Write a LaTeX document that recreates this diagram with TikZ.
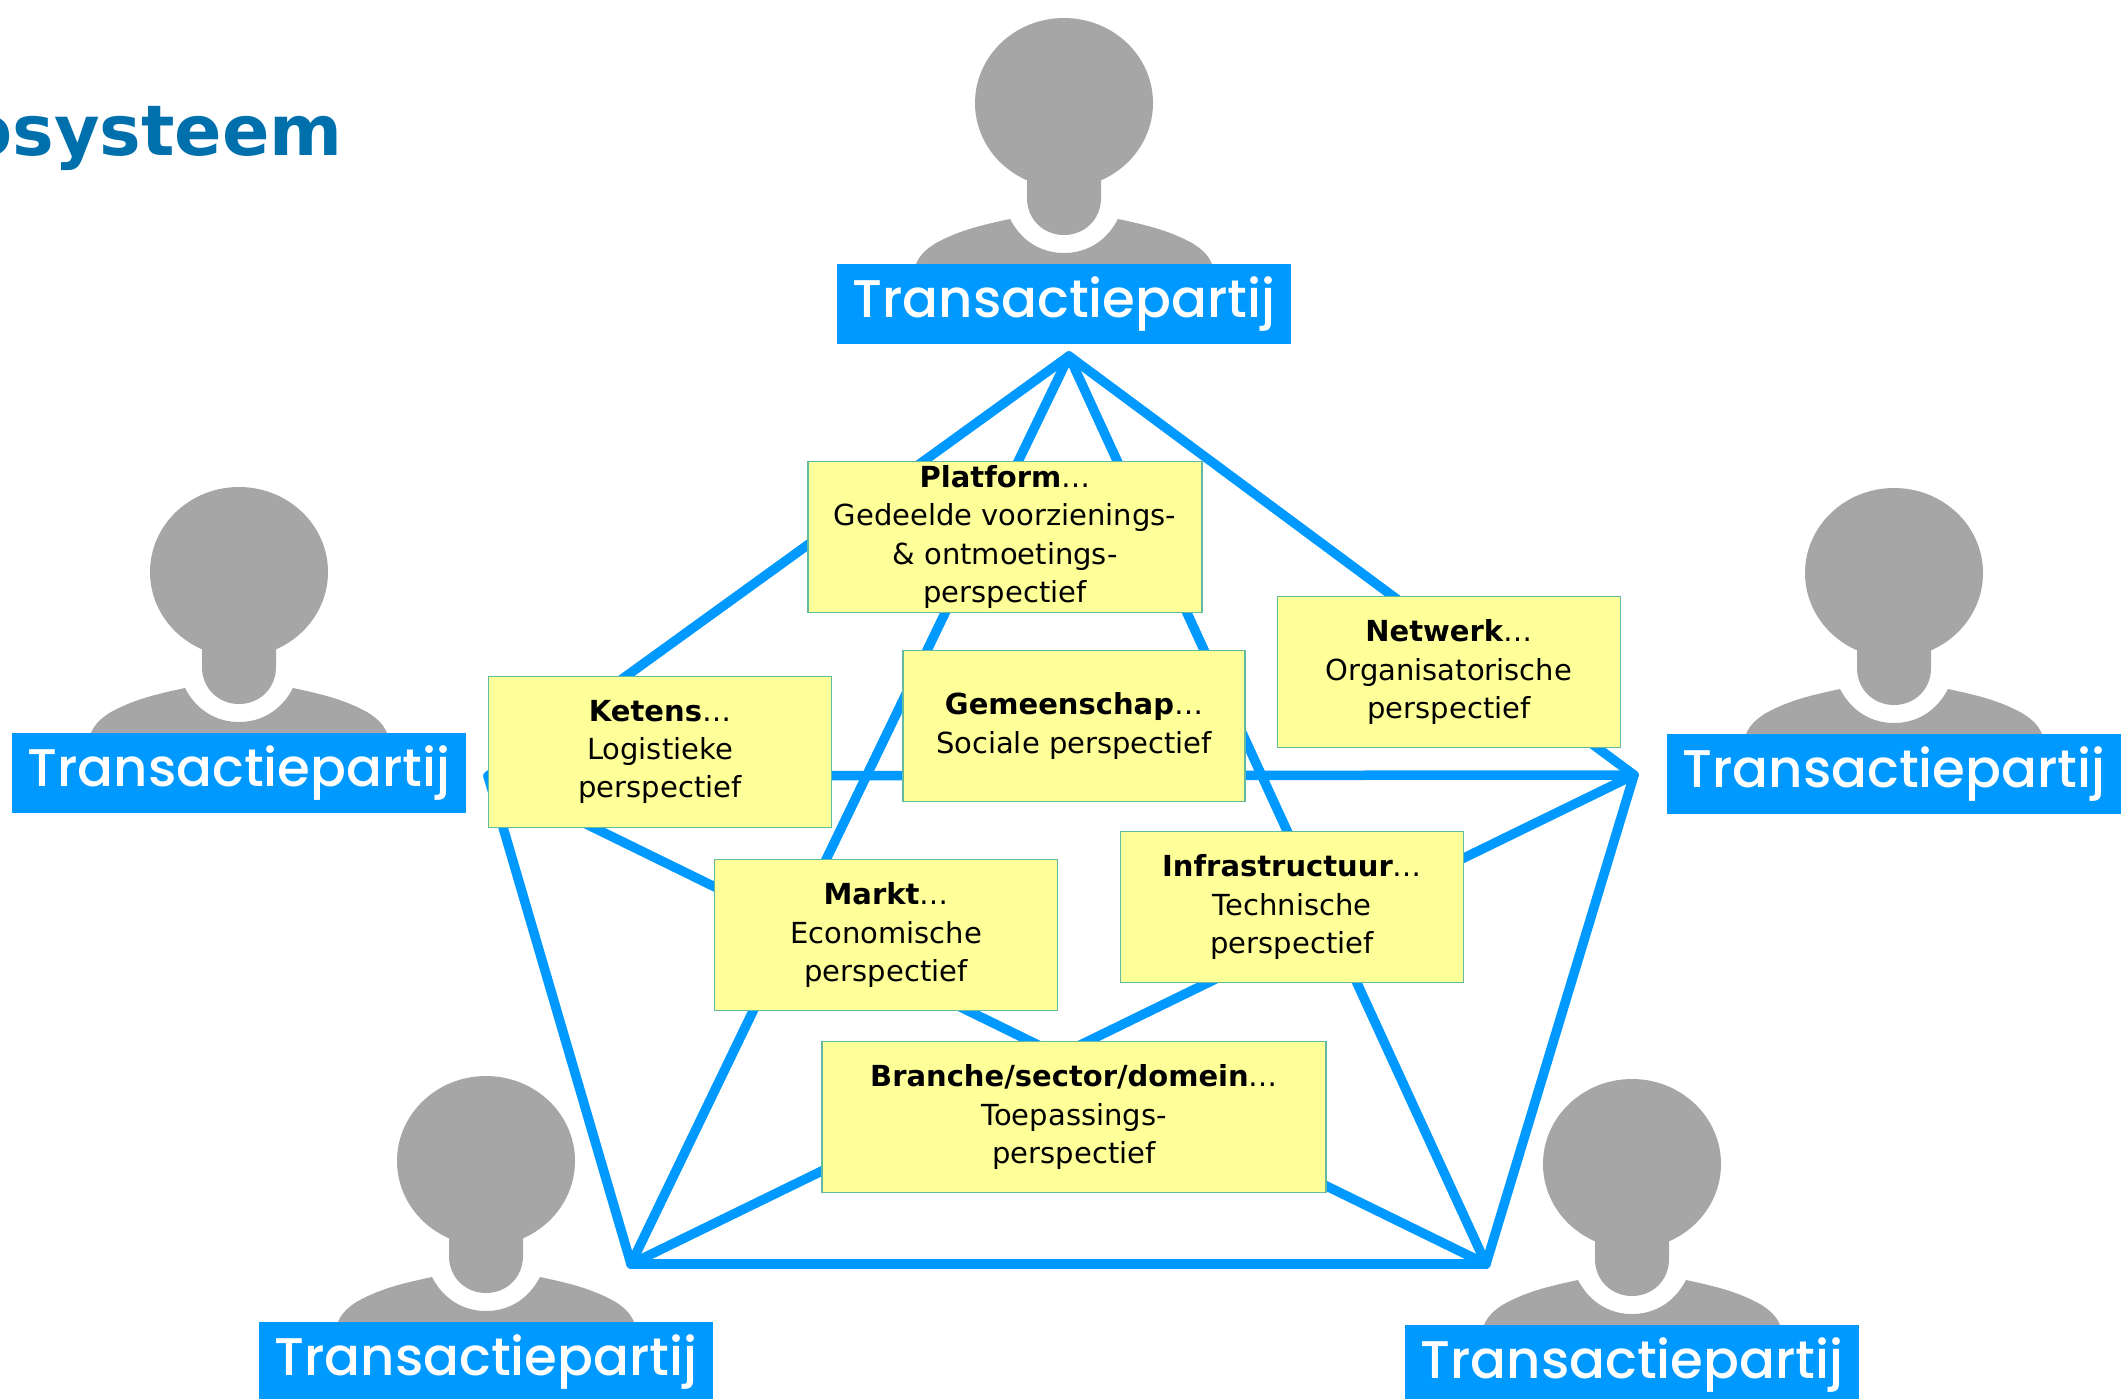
\documentclass[tikz,border=0pt]{standalone}
\usepackage{fontspec}
\setmainfont{DejaVu Sans}
\newfontfamily\partijfont{Poppins Medium}
\definecolor{lijnblauw}{HTML}{0099FF}
\definecolor{titelblauw}{HTML}{0070AD}
\definecolor{persoongrijs}{HTML}{A6A6A6}
\definecolor{kaderrand}{HTML}{62BBA0}
\definecolor{kadergeel}{HTML}{FFFF99}
\tikzset{
	partij/.pic={
		\fill[persoongrijs] (0,-161) ellipse (89 and 85);
		\fill[persoongrijs] (-37,-100) -- (-37,-66) .. controls (-37,-44) and (-20,-29) .. (0,-29) .. controls (20,-29) and (37,-44) .. (37,-66) -- (37,-100) -- cycle;
		\fill[persoongrijs] (-148,0) .. controls (-144,-10) and (-136,-16) .. (-128,-21) .. controls (-104,-34) and (-82,-39) .. (-54,-45) .. controls (-42,-22) and (-22,-11) .. (0,-11) .. controls (22,-11) and (42,-22) .. (54,-45) .. controls (82,-39) and (104,-34) .. (128,-21) .. controls (136,-16) and (144,-10) .. (148,0) -- cycle;
		\node[partijlabel] (label) at (0,40) {Transactiepartij};
	}
}
\begin{document}
\begin{tikzpicture}[
		x=1pt, y=-1pt,
		partijlabel/.style={rectangle, fill=lijnblauw, text=white, minimum width=454pt, minimum height=80pt, inner sep=0pt, font=\partijfont\fontsize{53}{60}\selectfont},
		perspectief/.style={rectangle, draw=kaderrand, line width=1.2pt, fill=kadergeel, align=center, inner sep=0pt, minimum height=151pt, font=\fontsize{29}{38.2}\selectfont},
		verbinding/.style={draw=lijnblauw, line width=9.5pt, line cap=round, line join=round}
	]
	\useasboundingbox (0,0) rectangle (2124,1398);
	\clip (0,0) rectangle (2124,1398);
	\node[anchor=base east, inner sep=0pt, text=titelblauw, font=\bfseries\fontsize{70}{80}\selectfont] (titel) at (343,155) {osysteem};
	\coordinate (boven) at (1069,356);
	\coordinate (rechts) at (1634,775);
	\coordinate (rechtsonder) at (1486,1264);
	\coordinate (linksonder) at (631,1264);
	\coordinate (links) at (488,776);
	\foreach \van/\naar in {boven/rechts, rechts/rechtsonder, rechtsonder/linksonder, linksonder/links, links/boven, boven/rechtsonder, boven/linksonder, links/rechts, links/rechtsonder, rechts/linksonder}
		\draw[verbinding] (\van) -- (\naar);
	\pic (p1) at (1064,264) {partij};
	\pic (p2) at (239,733) {partij};
	\pic (p3) at (1894,734) {partij};
	\pic (p4) at (486,1322) {partij};
	\pic (p5) at (1632,1325) {partij};
	\node[perspectief, minimum width=394pt] (platform) at (1005,537) {\textbf{Platform}\ldots\\Gedeelde voorzienings-\\\& ontmoetings-\\perspectief};
	\node[perspectief, minimum width=342pt] (gemeenschap) at (1074,726) {\textbf{Gemeenschap}\ldots\\Sociale perspectief};
	\node[perspectief, minimum width=343pt] (netwerk) at (1449,672) {\textbf{Netwerk}\ldots\\Organisatorische\\perspectief};
	\node[perspectief, minimum width=343pt] (ketens) at (660,752) {\textbf{Ketens}\ldots\\Logistieke\\perspectief};
	\node[perspectief, minimum width=343pt] (markt) at (886,935) {\textbf{Markt}\ldots\\Economische\\perspectief};
	\node[perspectief, minimum width=343pt] (infrastructuur) at (1292,907) {\textbf{Infrastructuur}\ldots\\Technische\\perspectief};
	\node[perspectief, minimum width=504pt] (branche) at (1074,1117) {\textbf{Branche/sector/domein}\ldots\\Toepassings-\\perspectief};
\end{tikzpicture}
\end{document}
